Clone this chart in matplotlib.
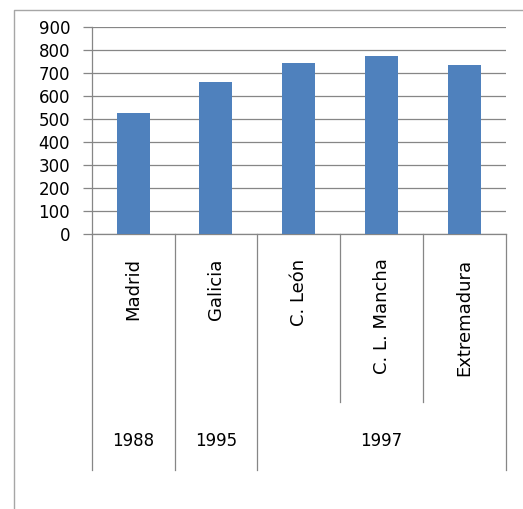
import matplotlib
matplotlib.use("Agg")
import matplotlib.pyplot as plt
from matplotlib.lines import Line2D

# Data
regions = ["Madrid", "Galicia", "C. León", "C. L. Mancha", "Extremadura"]
values = [526, 663, 743, 775, 735]
years = ["1988", "1995", "1997"]
year_groups = [[0], [1], [2, 3, 4]]   # indices of regions under each year
y_ticks = [0, 100, 200, 300, 400, 500, 600, 700, 800, 900]

bar_color = "#4F81BD"
line_color = "#868686"

W, H = 523, 509
fig = plt.figure(figsize=(W / 100, H / 100), dpi=100)
fig.patch.set_facecolor("white")

left, right = 91.7 / W, 505.7 / W
bottom, top = 1 - 234.3 / H, 1 - 27.3 / H
ax = fig.add_axes([left, bottom, right - left, top - bottom])

x = list(range(len(regions)))
ax.bar(x, values, width=0.4, color=bar_color, zorder=3)

ax.set_xlim(-0.5, len(regions) - 0.5)
ax.set_ylim(0, 900)
ax.set_yticks(y_ticks)
ax.set_yticklabels([str(t) for t in y_ticks])
ax.set_xticks([])

ax.yaxis.grid(True, color=line_color, linewidth=0.9, zorder=0)
ax.set_axisbelow(True)
for s in ["top", "right"]:
    ax.spines[s].set_visible(False)
for s in ["left", "bottom"]:
    ax.spines[s].set_color(line_color)
    ax.spines[s].set_linewidth(0.9)

ax.tick_params(axis="y", direction="out", length=6.5, width=0.9,
               color=line_color, pad=9, labelsize=12, labelcolor="black")

# Multi-level category axis
ax_h_px = (top - bottom) * H
outer_depth = -(470 - 234.3) / ax_h_px
inner_depth = -(401.7 - 234.3) / ax_h_px
label_top = -(258.5 - 234.3) / ax_h_px
year_y = -(441 - 234.3) / ax_h_px

trans = ax.get_xaxis_transform()
group_edges = set()
for grp in year_groups:
    group_edges.add(grp[0] - 0.5)
    group_edges.add(grp[-1] + 0.5)
for b in [i - 0.5 for i in range(len(regions) + 1)]:
    depth = outer_depth if b in group_edges else inner_depth
    ax.add_line(Line2D([b, b], [0, depth], transform=trans, color=line_color,
                       linewidth=0.9, clip_on=False))

for i, name in enumerate(regions):
    ax.text(i, label_top, name, transform=trans, rotation=90,
            ha="center", va="top", fontsize=13, color="black")

for yr, grp in zip(years, year_groups):
    cx = (grp[0] + grp[-1]) / 2
    ax.text(cx, year_y, yr, transform=trans, ha="center", va="center",
            fontsize=12, color="black")

# Chart area border
bx = 13.5 / W
by = 1 - 10 / H
fig.add_artist(Line2D([bx, bx, 1.0], [0.0, by, by], transform=fig.transFigure,
                      color="#a6a6a6", linewidth=1.0))

fig.savefig("out.png", dpi=100, facecolor="white")
